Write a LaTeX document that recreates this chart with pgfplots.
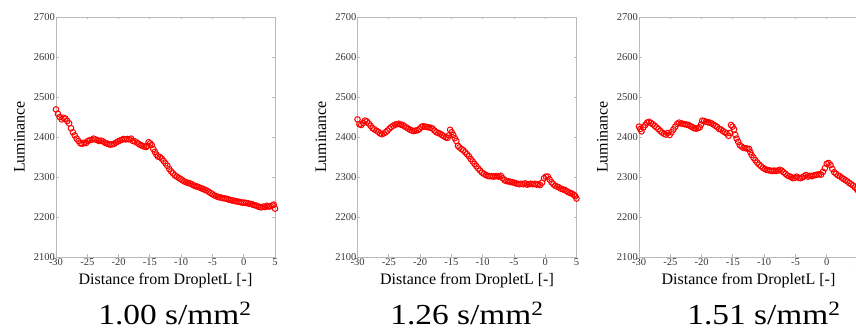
\documentclass[border=0pt]{standalone}
\usepackage{fontspec}
\setmainfont{Liberation Serif}
\usepackage{pgfplots}
\usepackage{pgfplotstable}
\pgfplotsset{compat=1.18}
\definecolor{axgray}{RGB}{185,185,185}
\definecolor{tickgray}{RGB}{55,55,55}

\pgfplotstableread{
x y
-30.0 2469
-29.7 2458
-29.4 2450
-29.1 2444
-28.8 2448
-28.5 2446
-28.2 2440
-27.9 2434
-27.6 2422
-27.3 2412
-27.0 2404
-26.7 2396
-26.4 2390
-26.1 2384
-25.8 2383
-25.5 2386
-25.2 2385
-24.9 2390
-24.6 2392
-24.3 2393
-24.0 2396
-23.7 2394
-23.4 2392
-23.1 2390
-22.8 2391
-22.5 2389
-22.2 2386
-21.9 2384
-21.6 2382
-21.3 2381
-21.0 2382
-20.7 2383
-20.4 2386
-20.1 2389
-19.8 2391
-19.5 2393
-19.2 2395
-18.9 2394
-18.6 2395
-18.3 2394
-18.0 2396
-17.7 2390
-17.4 2389
-17.1 2386
-16.8 2383
-16.5 2380
-16.2 2378
-15.9 2376
-15.6 2375
-15.4 2378
-15.2 2387
-14.95 2384
-14.7 2380
-14.45 2370
-14.2 2363
-13.95 2356
-13.7 2351
-13.4 2350
-13.1 2346
-12.8 2340
-12.5 2334
-12.2 2328
-11.9 2320
-11.6 2314
-11.3 2309
-11.0 2304
-10.7 2301
-10.4 2298
-10.1 2295
-9.8 2292
-9.5 2289
-9.2 2287
-8.9 2285
-8.6 2284
-8.3 2282
-8.0 2279
-7.7 2277
-7.4 2276
-7.1 2274
-6.8 2272
-6.5 2270
-6.2 2268
-5.9 2266
-5.6 2263
-5.3 2260
-5.0 2257
-4.7 2254
-4.4 2252
-4.1 2250
-3.8 2249
-3.5 2248
-3.2 2247
-2.9 2246
-2.6 2245
-2.3 2243
-2.0 2242
-1.7 2241
-1.4 2240
-1.1 2239
-0.8 2238
-0.5 2237
-0.2 2236
0.1 2236
0.4 2235
0.7 2234
1.0 2233
1.3 2232
1.6 2230
1.9 2229
2.2 2227
2.5 2225
2.8 2224
3.1 2226
3.4 2225
3.7 2228
4.0 2226
4.3 2227
4.6 2229
4.8 2231
5.0 2221
}\dataA

\pgfplotstableread{
x y
-30.0 2444
-29.7 2432
-29.4 2430
-29.1 2435
-28.8 2441
-28.5 2439
-28.2 2434
-27.9 2428
-27.6 2422
-27.3 2419
-27.0 2416
-26.7 2413
-26.4 2409
-26.1 2407
-25.8 2409
-25.5 2412
-25.2 2416
-24.9 2421
-24.6 2425
-24.3 2428
-24.0 2431
-23.7 2432
-23.4 2433
-23.1 2431
-22.8 2430
-22.5 2427
-22.2 2424
-21.9 2421
-21.6 2418
-21.3 2416
-21.0 2415
-20.7 2416
-20.4 2417
-20.1 2420
-19.8 2425
-19.5 2427
-19.2 2426
-18.9 2425
-18.6 2424
-18.3 2423
-18.0 2421
-17.7 2416
-17.4 2412
-17.1 2410
-16.8 2408
-16.5 2405
-16.2 2402
-15.9 2399
-15.6 2398
-15.4 2404
-15.2 2418
-14.95 2412
-14.7 2405
-14.45 2397
-14.2 2390
-13.95 2378
-13.7 2374
-13.4 2370
-13.1 2367
-12.8 2362
-12.5 2357
-12.2 2352
-11.9 2345
-11.6 2339
-11.3 2333
-11.0 2327
-10.7 2321
-10.4 2316
-10.1 2311
-9.8 2308
-9.5 2305
-9.2 2303
-8.9 2302
-8.6 2302
-8.3 2301
-8.0 2302
-7.7 2302
-7.4 2301
-7.1 2303
-6.8 2297
-6.5 2292
-6.2 2290
-5.9 2289
-5.6 2288
-5.3 2287
-5.0 2286
-4.7 2284
-4.4 2283
-4.1 2282
-3.8 2283
-3.5 2282
-3.2 2284
-2.9 2281
-2.6 2282
-2.3 2283
-2.0 2282
-1.7 2283
-1.4 2281
-1.1 2282
-0.8 2280
-0.5 2286
-0.2 2297
0.1 2301
0.4 2301
0.7 2294
1.0 2287
1.3 2282
1.6 2278
1.9 2276
2.2 2274
2.5 2271
2.8 2269
3.1 2268
3.4 2265
3.7 2262
4.0 2260
4.3 2258
4.6 2255
4.8 2252
5.0 2246
}\dataB

\pgfplotstableread{
x y
-30.0 2426
-29.8 2420
-29.6 2414
-29.3 2424
-29.0 2430
-28.7 2436
-28.4 2438
-28.1 2435
-27.8 2432
-27.5 2428
-27.2 2424
-26.9 2420
-26.6 2415
-26.3 2411
-26.0 2408
-25.7 2406
-25.4 2410
-25.1 2405
-24.8 2412
-24.5 2419
-24.2 2426
-23.9 2433
-23.6 2436
-23.3 2434
-23.0 2433
-22.7 2432
-22.4 2431
-22.1 2430
-21.8 2427
-21.5 2425
-21.2 2422
-20.9 2421
-20.6 2422
-20.3 2424
-20.1 2431
-19.9 2441
-19.6 2440
-19.3 2438
-19.0 2437
-18.7 2436
-18.4 2434
-18.1 2431
-17.8 2428
-17.5 2425
-17.2 2420
-16.9 2419
-16.6 2415
-16.3 2412
-16.0 2409
-15.7 2403
-15.5 2410
-15.3 2430
-15.05 2426
-14.8 2419
-14.6 2405
-14.4 2396
-14.15 2388
-13.9 2380
-13.6 2376
-13.3 2373
-13.0 2372
-12.7 2371
-12.4 2370
-12.2 2362
-12.0 2355
-11.7 2348
-11.4 2342
-11.1 2336
-10.8 2331
-10.5 2327
-10.2 2323
-9.9 2320
-9.6 2318
-9.3 2317
-9.0 2316
-8.7 2315
-8.4 2316
-8.1 2315
-7.8 2316
-7.5 2318
-7.2 2316
-6.9 2312
-6.6 2308
-6.3 2304
-6.0 2302
-5.7 2300
-5.4 2297
-5.1 2298
-4.8 2301
-4.5 2298
-4.2 2297
-3.9 2299
-3.6 2302
-3.3 2305
-3.0 2301
-2.7 2303
-2.4 2302
-2.1 2304
-1.8 2305
-1.5 2306
-1.2 2307
-0.9 2306
-0.6 2313
-0.3 2322
0.0 2333
0.3 2335
0.6 2330
0.9 2320
1.2 2312
1.5 2308
1.8 2304
2.1 2302
2.4 2298
2.7 2295
3.0 2292
3.3 2289
3.6 2285
3.9 2282
4.2 2279
4.5 2274
4.8 2270
5.0 2266
}\dataC

\pgfplotsset{lumstyle/.style={
  scale only axis, width=219pt, height=240pt,
  anchor=south west,
  xmin=-30, xmax=5, ymin=2100, ymax=2700,
  xtick={-30,-25,...,5}, ytick={2100,2200,...,2700},
  axis line style={axgray, line width=0.8pt},
  every tick/.style={axgray, line width=0.8pt},
  major tick length=2.5pt, tick align=inside,
  tick label style={font=\fontsize{10.5}{12}\selectfont, text=tickgray, inner sep=1pt},
  /pgf/number format/assume math mode=true,
  /pgf/number format/1000 sep={},
  xlabel={Distance from DropletL [-]},
  ylabel={Luminance},
  label style={font=\fontsize{16}{18}\selectfont, text=black},
  xlabel style={at={(axis description cs:0.5,0)}, anchor=base, yshift=-28pt},
  ylabel style={at={(axis description cs:-0.167,0.5)}, anchor=center},
  clip=false,
}}
\tikzset{lummark/.style={only marks, mark=o, mark size=2.8pt, red, mark options={line width=1pt}}}

\begin{document}
\begin{tikzpicture}
\useasboundingbox (0,0) rectangle (856pt,331pt);
\begin{axis}[lumstyle, at={(56pt,74pt)}]
\addplot[lummark] table[x=x,y=y] {\dataA};
\end{axis}
\begin{axis}[lumstyle, at={(357.5pt,74pt)}]
\addplot[lummark] table[x=x,y=y] {\dataB};
\end{axis}
\begin{axis}[lumstyle, at={(639pt,74pt)}]
\addplot[lummark] table[x=x,y=y] {\dataC};
\end{axis}
\node[anchor=base, font=\fontsize{29}{30}\selectfont] at (175pt,6pt) {\scalebox{1.15}[1]{1.00 s/mm\textsuperscript{2}}};
\node[anchor=base, font=\fontsize{29}{30}\selectfont] at (467pt,6pt) {\scalebox{1.15}[1]{1.26 s/mm\textsuperscript{2}}};
\node[anchor=base, font=\fontsize{29}{30}\selectfont] at (764pt,6pt) {\scalebox{1.15}[1]{1.51 s/mm\textsuperscript{2}}};
\end{tikzpicture}
\end{document}
